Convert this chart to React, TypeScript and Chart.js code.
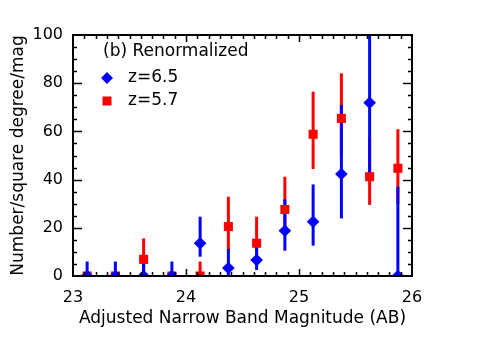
import React, { useEffect, useRef } from 'react';
import { Chart, registerables } from 'chart.js';

Chart.register(...registerables);

const mags = [23.125, 23.375, 23.625, 23.875, 24.125, 24.375, 24.625, 24.875, 25.125, 25.375, 25.625, 25.875];

const z65Val = [0, 0, 0, 0, 13.6, 3.3, 6.6, 18.8, 22.5, 42.3, 71.9, 0];
const z65Lo = [0, 0, 0, 0, 8, 0, 2.5, 10.5, 12.6, 23.9, 40.7, 0];
const z65Hi = [6, 6, 6, 6, 24.6, 11.2, 12.2, 31.8, 38, 71, 110, 37];

const z57Val = [0, 0, 6.9, 0, 0, 20.5, 13.6, 27.6, 58.8, 65.4, 41.2, 44.7];
const z57Lo = [0, 0, 0, 0, 0, 9.5, 7, 17, 44.4, 50, 29.5, 30];
const z57Hi = [0, 0, 15.6, 0, 6, 32.9, 24.6, 41.2, 76.5, 84.1, 57.1, 60.9];

const xMin = 23;
const xMax = 26;
const yMin = 0;
const yMax = 100;
const xMajorStep = 1;
const xMinorStep = 0.1;
const yMajorStep = 20;
const yMinorStep = 5;

const BLUE = '#0000ff';
const RED = '#ff0000';
const FONT = '"DejaVu Sans", sans-serif';

const xTitle = 'Adjusted Narrow Band Magnitude (AB)';
const yTitle = 'Number/square degree/mag';
const panelLabel = '(b) Renormalized';
const labelZ65 = 'z=6.5';
const labelZ57 = 'z=5.7';

const errorBarPlugin = {
  id: 'errorBars',
  beforeDatasetsDraw(chart: any) {
    const { ctx, chartArea, scales } = chart;
    const xs = scales.x;
    const ys = scales.y;
    ctx.save();
    ctx.beginPath();
    ctx.rect(chartArea.left, chartArea.top, chartArea.right - chartArea.left, chartArea.bottom - chartArea.top);
    ctx.clip();
    ctx.lineWidth = 3;
    const drawSet = (lo: number[], hi: number[], color: string) => {
      ctx.strokeStyle = color;
      for (let i = 0; i < mags.length; i++) {
        if (hi[i] === lo[i]) continue;
        const x = xs.getPixelForValue(mags[i]);
        ctx.beginPath();
        ctx.moveTo(x, ys.getPixelForValue(lo[i]));
        ctx.lineTo(x, ys.getPixelForValue(hi[i]));
        ctx.stroke();
      }
    };
    drawSet(z57Lo, z57Hi, RED);
    drawSet(z65Lo, z65Hi, BLUE);
    ctx.restore();
  },
};

const framePlugin = {
  id: 'frameTicks',
  afterDraw(chart: any) {
    const { ctx, chartArea, scales } = chart;
    const xs = scales.x;
    const ys = scales.y;
    const { left, right, top, bottom } = chartArea;
    ctx.save();
    ctx.strokeStyle = '#000';
    ctx.lineWidth = 2;
    ctx.strokeRect(left, top, right - left, bottom - top);
    ctx.lineWidth = 1.5;
    const majLen = 7;
    const minLen = 4;
    const nx = Math.round((xMax - xMin) / xMinorStep);
    for (let i = 1; i < nx; i++) {
      const v = xMin + i * xMinorStep;
      const isMajor = Math.abs(v / xMajorStep - Math.round(v / xMajorStep)) < 1e-6;
      const len = isMajor ? majLen : minLen;
      const x = Math.round(xs.getPixelForValue(v)) + 0.5;
      ctx.beginPath();
      ctx.moveTo(x, bottom);
      ctx.lineTo(x, bottom - len);
      ctx.moveTo(x, top);
      ctx.lineTo(x, top + len);
      ctx.stroke();
    }
    const ny = Math.round((yMax - yMin) / yMinorStep);
    for (let i = 1; i < ny; i++) {
      const v = yMin + i * yMinorStep;
      const isMajor = Math.abs(v / yMajorStep - Math.round(v / yMajorStep)) < 1e-6;
      const len = isMajor ? majLen + 2 : minLen;
      const y = Math.round(ys.getPixelForValue(v)) + 0.5;
      ctx.beginPath();
      ctx.moveTo(left, y);
      ctx.lineTo(left + len, y);
      ctx.moveTo(right, y);
      ctx.lineTo(right - len, y);
      ctx.stroke();
    }

    ctx.fillStyle = '#000';
    ctx.font = `17px ${FONT}`;
    ctx.textAlign = 'center';
    ctx.textBaseline = 'middle';
    ctx.fillText(xTitle, (left + right) / 2, 319);
    ctx.save();
    ctx.translate(19, (top + bottom) / 2);
    ctx.rotate(-Math.PI / 2);
    ctx.fillText(yTitle, 0, 0);
    ctx.restore();

    ctx.font = `17px ${FONT}`;
    ctx.textAlign = 'left';
    ctx.fillText(panelLabel, 103, 52);
    ctx.fillText(labelZ65, 128, 78);
    ctx.fillText(labelZ57, 128, 101);
    ctx.fillStyle = BLUE;
    ctx.beginPath();
    ctx.moveTo(107, 72);
    ctx.lineTo(113, 78);
    ctx.lineTo(107, 84);
    ctx.lineTo(101, 78);
    ctx.closePath();
    ctx.fill();
    ctx.fillStyle = RED;
    ctx.fillRect(102.5, 96.5, 9, 9);
    ctx.restore();
  },
};

export default function App() {
  const canvasRef = useRef<HTMLCanvasElement | null>(null);

  useEffect(() => {
    document.body.style.margin = '0';
    const canvas = canvasRef.current;
    if (!canvas) return;
    const chart = new Chart(canvas, {
      type: 'scatter',
      data: {
        datasets: [
          {
            label: labelZ57,
            data: mags.map((m, i) => ({ x: m, y: z57Val[i] })),
            backgroundColor: RED,
            borderColor: RED,
            borderWidth: 0,
            pointStyle: 'rect',
            pointRadius: 6.4,
            clip: 0,
            order: 2,
          },
          {
            label: labelZ65,
            data: mags.map((m, i) => ({ x: m, y: z65Val[i] })),
            backgroundColor: BLUE,
            borderColor: BLUE,
            borderWidth: 0,
            pointStyle: 'rectRot',
            pointRadius: 6.3,
            clip: 0,
            order: 1,
          },
        ],
      },
      options: {
        animation: false,
        responsive: false,
        maintainAspectRatio: false,
        layout: { padding: { top: 35, right: 73, left: 0, bottom: 0 } },
        plugins: {
          legend: { display: false },
          tooltip: { enabled: false },
        },
        scales: {
          x: {
            type: 'linear',
            min: xMin,
            max: xMax,
            grid: { display: false, drawTicks: false },
            border: { display: false },
            ticks: {
              stepSize: xMajorStep,
              color: '#000',
              font: { family: FONT, size: 16 },
              padding: 12,
              maxRotation: 0,
            },
            afterFit: (s: any) => {
              s.height = 70;
            },
          },
          y: {
            type: 'linear',
            min: yMin,
            max: yMax,
            grid: { display: false, drawTicks: false },
            border: { display: false },
            ticks: {
              stepSize: yMajorStep,
              color: '#000',
              font: { family: FONT, size: 16 },
              padding: 10,
            },
            afterFit: (s: any) => {
              s.width = 73;
            },
          },
        },
      },
      plugins: [errorBarPlugin, framePlugin],
    });
    return () => chart.destroy();
  }, []);

  return (
    <div style={{ position: 'fixed', left: 0, top: 0, width: 485, height: 346, background: '#fff' }}>
      <canvas ref={canvasRef} width={485} height={346} style={{ width: 485, height: 346 }} />
    </div>
  );
}
